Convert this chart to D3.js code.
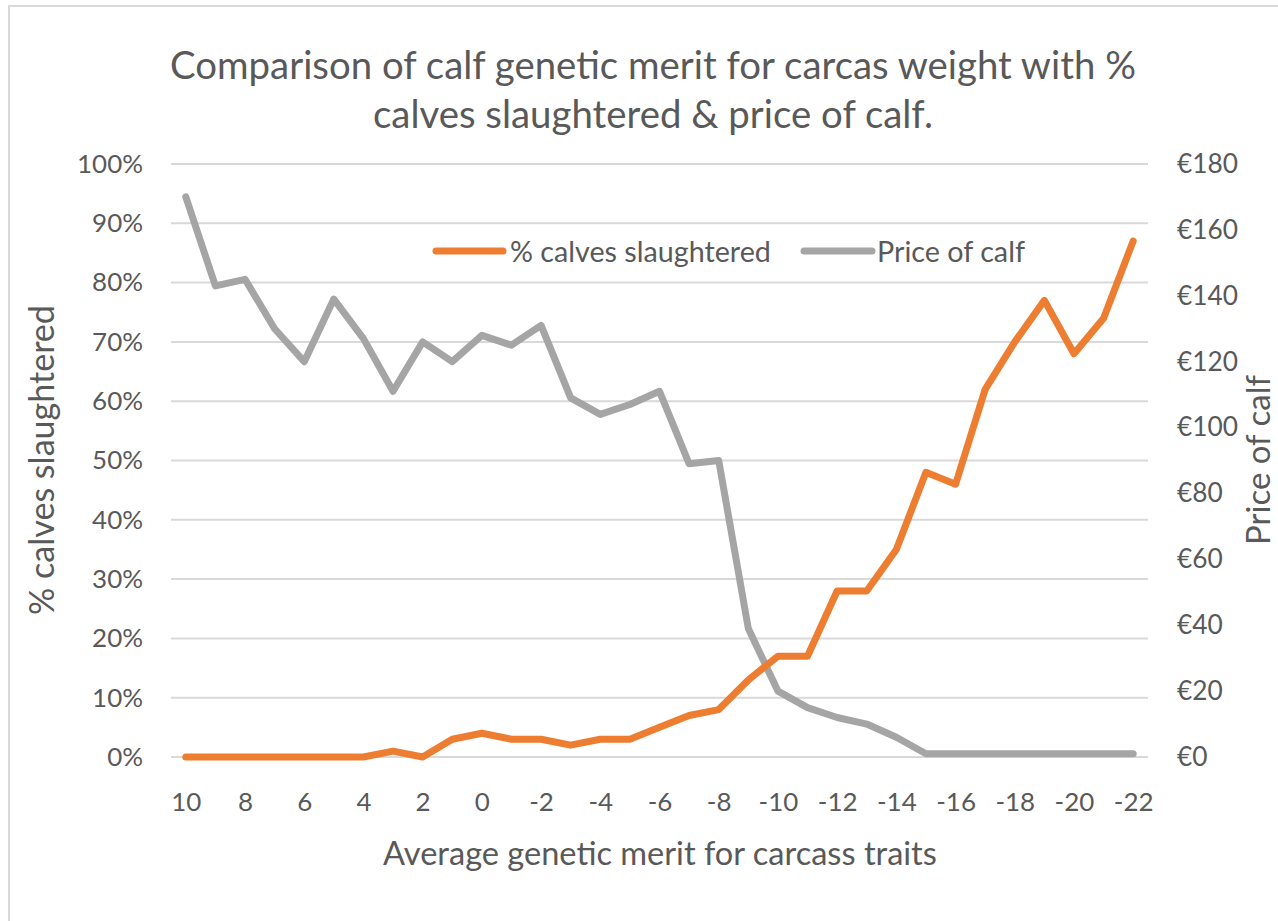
<!DOCTYPE html>
<html>
<head>
<meta charset="utf-8">
<script src="https://cdn.jsdelivr.net/npm/d3@7"></script>
<style>
  html, body { margin: 0; padding: 0; background: #fff; overflow: hidden; }
  svg { display: block; }
  text { font-family: Lato, "Open Sans", sans-serif; fill: #595959; }
</style>
</head>
<body>
<svg id="chart" width="1278" height="921"></svg>
<script>
// ---- data ----
const categories = [10, 9, 8, 7, 6, 5, 4, 3, 2, 1, 0, -1, -2, -3, -4, -5, -6, -7, -8, -9, -10,
                    -11, -12, -13, -14, -15, -16, -17, -18, -19, -20, -21, -22];
const pctSlaughtered = [0, 0, 0, 0, 0, 0, 0, 1, 0, 3, 4, 3, 3, 2, 3, 3, 5, 7, 8, 13, 17,
                        17, 28, 28, 35, 48, 46, 62, 70, 77, 68, 74, 87];
const priceOfCalf = [170, 143, 145, 130, 120, 139, 127, 111, 126, 120, 128, 125, 131, 109, 104, 107, 111, 89, 90, 39, 20,
                     15, 12, 10, 6, 1, 1, 1, 1, 1, 1, 1, 1];
const xTickLabels = [10, 8, 6, 4, 2, 0, -2, -4, -6, -8, -10, -12, -14, -16, -18, -20, -22];
const leftTicks = [0, 10, 20, 30, 40, 50, 60, 70, 80, 90, 100];
const rightTicks = [0, 20, 40, 60, 80, 100, 120, 140, 160, 180];
const seriesNames = ["% calves slaughtered", "Price of calf"];
const titleLines = ["Comparison of calf genetic merit for carcas weight with %",
                    "calves slaughtered & price of calf."];
const xTitle = "Average genetic merit for carcass traits";
const yLeftTitle = "% calves slaughtered";
const yRightTitle = "Price of calf";

// ---- layout ----
const svg = d3.select("#chart");
const plot = { left: 171, right: 1148, top: 164, bottom: 757 };
const ORANGE = "#ED7D31", GRAY = "#A5A5A5", GRID = "#D9D9D9";

function fit(sel, target) {
  const w = sel.node().getComputedTextLength();
  const fs = parseFloat(sel.attr("font-size"));
  sel.attr("font-size", fs * target / w);
  return fs * target / w;
}

// chart border
svg.append("rect").attr("x", 9).attr("y", 6).attr("width", 1400).attr("height", 1000)
  .attr("fill", "none").attr("stroke", GRID).attr("stroke-width", 2);

const x = d3.scalePoint().domain(categories).range([plot.left, plot.right]).padding(0.5);
const yL = d3.scaleLinear().domain([0, 100]).range([plot.bottom, plot.top]);
const yR = d3.scaleLinear().domain([0, 180]).range([plot.bottom, plot.top]);

// gridlines
svg.append("g").selectAll("line").data(leftTicks).join("line")
  .attr("x1", plot.left).attr("x2", plot.right)
  .attr("y1", d => yL(d)).attr("y2", d => yL(d))
  .attr("stroke", GRID).attr("stroke-width", 2);

// left axis labels
const lAxis = svg.append("g").attr("transform", `translate(143,0)`)
  .call(d3.axisLeft(yL).tickValues(leftTicks).tickFormat(d => d + "%").tickSize(0).tickPadding(0));
lAxis.select(".domain").remove();
lAxis.selectAll("text").attr("font-size", 24).attr("font-family", null).attr("fill", "#595959");
let tickFs;
{
  const t = lAxis.selectAll("text").filter(d => d === 100);
  tickFs = fit(t, 66);
  lAxis.selectAll("text").attr("font-size", tickFs);
}

// right axis labels
const rAxis = svg.append("g").attr("transform", `translate(1177,0)`)
  .call(d3.axisRight(yR).tickValues(rightTicks).tickFormat(d => "€" + d).tickSize(0).tickPadding(0));
rAxis.select(".domain").remove();
rAxis.selectAll("text").attr("font-size", 24).attr("font-family", null).attr("fill", "#595959");
{
  const t = rAxis.selectAll("text").filter(d => d === 180);
  const fs = fit(t, 61);
  rAxis.selectAll("text").attr("font-size", fs);
}

// x axis labels
const xAxis = svg.append("g").attr("transform", `translate(0,801)`)
  .call(d3.axisBottom(x).tickValues(xTickLabels).tickFormat(d => String(d)).tickSize(0).tickPadding(0));
xAxis.select(".domain").remove();
xAxis.selectAll("text").attr("font-size", tickFs).attr("font-family", null).attr("fill", "#595959")
  .attr("dy", null).attr("y", 0).attr("dominant-baseline", "central");

// lines
const lineL = d3.line().x((d, i) => x(categories[i])).y(d => yL(d));
const lineR = d3.line().x((d, i) => x(categories[i])).y(d => yR(d));
svg.append("path").datum(priceOfCalf).attr("d", lineR)
  .attr("fill", "none").attr("stroke", GRAY).attr("stroke-width", 7)
  .attr("stroke-linejoin", "round").attr("stroke-linecap", "round");
svg.append("path").datum(pctSlaughtered).attr("d", lineL)
  .attr("fill", "none").attr("stroke", ORANGE).attr("stroke-width", 7)
  .attr("stroke-linejoin", "round").attr("stroke-linecap", "round");

// title
const tl1 = svg.append("text").attr("x", 653).attr("y", 79).attr("text-anchor", "middle")
  .attr("font-size", 40).text(titleLines[0]);
const tfs = fit(tl1, 966);
svg.append("text").attr("x", 653).attr("y", 128).attr("text-anchor", "middle")
  .attr("font-size", tfs).text(titleLines[1]);

// axis titles
const xt = svg.append("text").attr("x", 660).attr("y", 865).attr("text-anchor", "middle")
  .attr("font-size", 28).text(xTitle);
fit(xt, 554);
const ylt = svg.append("text").attr("transform", "translate(54,460) rotate(-90)")
  .attr("text-anchor", "middle").attr("font-size", 28).text(yLeftTitle);
fit(ylt, 310);
const yrt = svg.append("text").attr("transform", "translate(1270,460) rotate(-90)")
  .attr("text-anchor", "middle").attr("font-size", 28).text(yRightTitle);
fit(yrt, 170);

// legend
const legend = [
  { name: seriesNames[0], color: ORANGE, x1: 436, x2: 503, tx: 510, tw: 261 },
  { name: seriesNames[1], color: GRAY, x1: 804, x2: 872, tx: 877, tw: 148 }
];
const lg = svg.append("g");
legend.forEach(l => {
  lg.append("line").attr("x1", l.x1).attr("x2", l.x2).attr("y1", 251).attr("y2", 251)
    .attr("stroke", l.color).attr("stroke-width", 7).attr("stroke-linecap", "round");
  const t = lg.append("text").attr("x", l.tx).attr("y", 251).attr("dominant-baseline", "central")
    .attr("font-size", 26).text(l.name);
  fit(t, l.tw);
});
</script>
</body>
</html>
